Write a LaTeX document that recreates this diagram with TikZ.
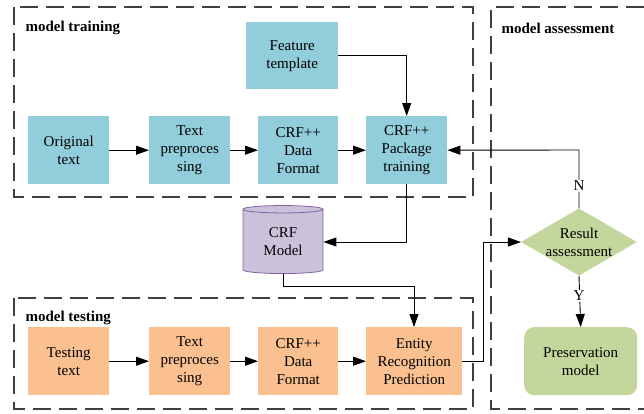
\documentclass[tikz,border=0pt]{standalone}
\usepackage{fontspec}
\setmainfont{Liberation Serif}
\usetikzlibrary{shapes.geometric,arrows.meta}
\definecolor{bluebox}{HTML}{92CDDC}
\definecolor{orangebox}{HTML}{FAC090}
\definecolor{greenbox}{HTML}{C3D69B}
\definecolor{purplebox}{HTML}{CCC1DA}
\definecolor{purpleline}{HTML}{8064A2}
\begin{document}
\begin{tikzpicture}[x=1pt,y=-1pt,
  every node/.style={font=\fontsize{15}{18}\selectfont, align=center},
  box/.style={minimum width=81pt, minimum height=68pt, inner sep=1pt, anchor=north west},
  bluen/.style={box, fill=bluebox},
  orangen/.style={box, fill=orangebox},
  grp/.style={dash pattern=on 18pt off 8pt, line width=1.1pt, draw=black!75},
  lbl/.style={font=\fontsize{15}{17}\selectfont\bfseries, anchor=west},
  conn/.style={line width=0.9pt, -{Triangle[length=13pt,width=9pt]}},
  yn/.style={fill=white, inner sep=1pt, font=\fontsize{15}{17}\selectfont}
]
\useasboundingbox (0,0) rectangle (644,413);
% group frames
\draw[grp] (14,7) rectangle (473,197);
\draw[grp] (14,298) rectangle (473,409);
\draw[grp] (644,7) -- (491,7) -- (491,409) -- (644,409);
\node[lbl] (lt) at (22,28) {model training};
\node[lbl] (la) at (498,28) {model assessment};
\node[lbl] (lte) at (22,318) {model testing};
% training row
\node[bluen, minimum width=92pt, minimum height=67pt] (ft) at (246,22) {Feature\\template};
\node[bluen] (ot) at (28,116) {Original\\text};
\node[bluen] (tp) at (149,116) {Text\\preproces\\sing};
\node[bluen, minimum width=80pt] (df) at (258,116) {CRF++\\Data\\Format};
\node[bluen] (pt) at (366,116) {CRF++\\Package\\training};
% CRF model
\node[cylinder, shape border rotate=90, aspect=0.18, draw=purpleline, line width=0.8pt, fill=purplebox,
  minimum width=80pt, minimum height=68pt, inner sep=1pt] (cm) at (283,242) {CRF\\Model};
% testing row
\node[orangen] (tt) at (28,327) {Testing\\text};
\node[orangen] (tp2) at (149,327) {Text\\preproces\\sing};
\node[orangen, minimum width=80pt] (df2) at (258,327) {CRF++\\Data\\Format};
\node[orangen, minimum width=96pt] (er) at (366,327) {Entity\\Recognition\\Prediction};
% assessment
\node[diamond, fill=greenbox, minimum width=112pt, minimum height=65pt, inner sep=0pt, aspect=1.72] (ra) at (579,242) {Result\\assessment};
\node[fill=greenbox, rounded corners=10pt, minimum width=113pt, minimum height=68pt, anchor=north west] (pm) at (524,327) {Preservation\\model};
% connectors
\draw[conn] (ot) -- (tp);
\draw[conn] (tp) -- (df);
\draw[conn] (df) -- (pt);
\draw[conn] (ft.east) -| (pt.north);
\draw[conn] (tt) -- (tp2);
\draw[conn] (tp2) -- (df2);
\draw[conn] (df2) -- (er);
\draw[conn] (pt.south) |- (cm.east);
\coordinate (c1) at (414,286);
\draw[conn] (cm.bottom) |- (c1) -- (er.north -| c1);
\coordinate (c2) at (483,242);
\draw[conn] (er.east) -| (c2) -- (ra.west);
\coordinate (c3) at (579,150);
\draw[conn] (ra.north) -- (c3) -- (pt.east);
\node[yn] (nl) at (579,186) {N};
\draw[conn] (ra.south) -- (pm.north);
\node[yn] (yl) at (579,296) {Y};
\end{tikzpicture}
\end{document}
